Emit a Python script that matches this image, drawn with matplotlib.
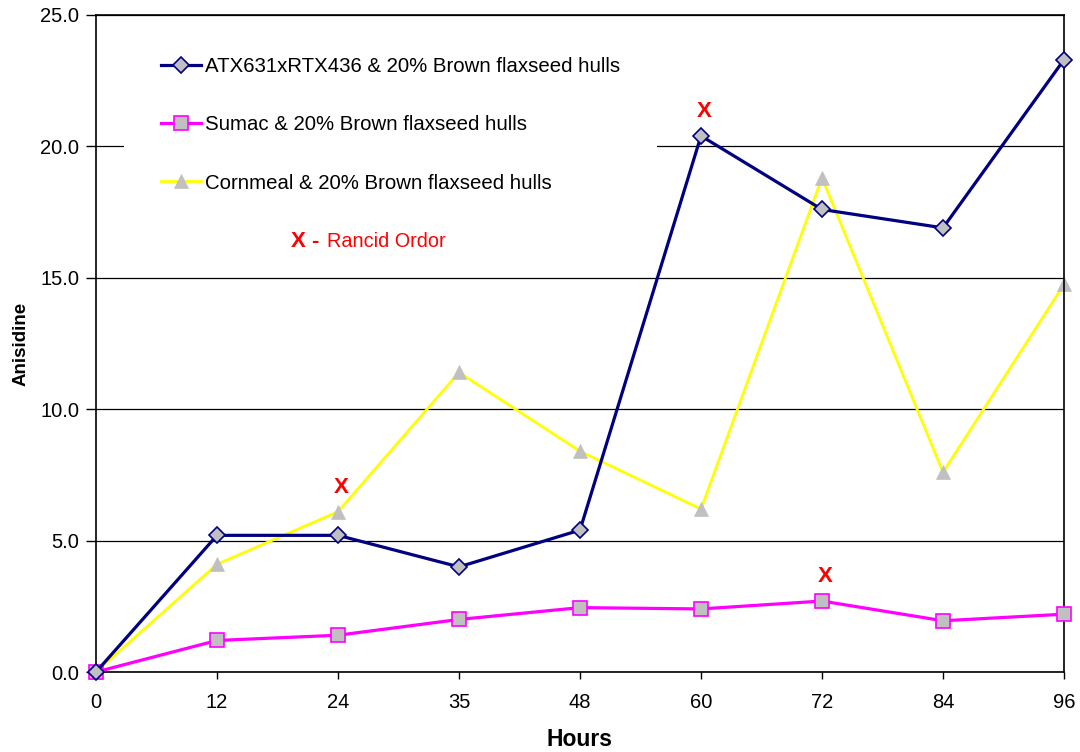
import matplotlib
matplotlib.use("Agg")
import matplotlib.pyplot as plt

plt.rcParams['font.family'] = ['Liberation Sans', 'DejaVu Sans']

hours = ["0", "12", "24", "35", "48", "60", "72", "84", "96"]
atx = [0.0, 5.2, 5.2, 4.0, 5.4, 20.4, 17.6, 16.9, 23.3]
sumac = [0.0, 1.2, 1.4, 2.0, 2.45, 2.4, 2.7, 1.95, 2.2]
cornmeal = [0.0, 4.1, 6.1, 11.4, 8.4, 6.2, 18.8, 7.6, 14.75]
yticks = [0.0, 5.0, 10.0, 15.0, 20.0, 25.0]

# (series values, category index) flagged with a rancid odour
rancid_points = [(cornmeal, 2), (atx, 5), (sumac, 6)]

fig = plt.figure(figsize=(10.8, 7.52), dpi=100)
ax = fig.add_axes([96 / 1080, 1 - 672 / 752, (1064 - 96) / 1080, (672 - 15) / 752])

xs = list(range(len(hours)))

ax.plot(xs, atx, color='#000080', lw=2.3, marker='D', ms=8.3,
        mfc='#C0C0C0', mec='#000080', mew=1.2, clip_on=False, zorder=4,
        label='ATX631xRTX436 & 20% Brown flaxseed hulls')
ax.plot(xs, sumac, color='#FF00FF', lw=2.3, marker='s', ms=10,
        mfc='#C0C0C0', mec='#FF00FF', mew=1.2, clip_on=False, zorder=3,
        label='Sumac & 20% Brown flaxseed hulls')
ax.plot(xs, cornmeal, color='#FFFF00', lw=2.0, marker='^', ms=10.5,
        mfc='#C0C0C0', mec='#C0C0C0', mew=0.5, clip_on=False, zorder=2,
        label='Cornmeal & 20% Brown flaxseed hulls')

for series, i in rancid_points:
    ax.annotate('X', xy=(i, series[i]), xytext=(2, 17.5), textcoords='offset points',
                ha='center', va='center', color='#FF0000', fontsize=16,
                fontweight='bold', zorder=6)

ax.set_xlim(0, len(hours) - 1)
ax.set_ylim(0, 25)
ax.set_xticks(xs)
ax.set_xticklabels(hours)
ax.set_yticks(yticks)
ax.set_yticklabels([f"{v:.1f}" for v in yticks])
ax.tick_params(axis='y', direction='out', length=7, width=1, pad=5, labelsize=14.5)
ax.tick_params(axis='x', direction='out', length=5, width=1, pad=10, labelsize=14.5)

ax.grid(axis='y', color='#000000', lw=0.9)
ax.set_axisbelow(True)
for s in ax.spines.values():
    s.set_color('#000000')
    s.set_linewidth(1.2)

ax.set_xlabel('Hours', fontsize=16.5, fontweight='bold', labelpad=12)
ax.set_ylabel('Anisidine', fontsize=13.5, fontweight='bold', labelpad=8)

leg = ax.legend(loc='upper left', bbox_to_anchor=(124 / 1080, 1 - 20 / 752),
                bbox_transform=fig.transFigure, fontsize=14.7, frameon=True,
                facecolor='white', edgecolor='none', framealpha=1,
                handlelength=1.95, handletextpad=0.2, labelspacing=1.93,
                borderpad=1.8, borderaxespad=0, fancybox=False)
leg.set_zorder(5)

fig.text(291 / 1080, 1 - 247 / 752, 'X -', color='#FF0000', fontsize=16,
         fontweight='bold', ha='left', va='baseline')
fig.text(327 / 1080, 1 - 247 / 752, 'Rancid Ordor', color='#FF0000', fontsize=14.3,
         ha='left', va='baseline')

fig.savefig('out.png', dpi=100)
